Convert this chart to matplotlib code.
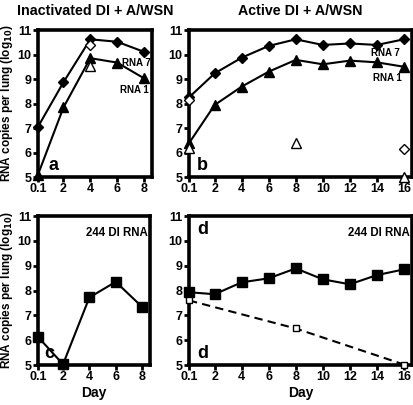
import matplotlib
matplotlib.use('Agg')
import matplotlib.pyplot as plt

plt.rcParams['font.family'] = ['Liberation Sans', 'DejaVu Sans']
plt.rcParams['font.weight'] = 'bold'

days_a = [0.1, 2, 4, 6, 8]
rna7_a = [7.05, 8.87, 10.62, 10.52, 10.11]
rna1_a = [5.1, 7.84, 9.85, 9.67, 9.03]
open7_a = ([4], [10.39])
open1_a = ([4], [9.53])

days_b = [0.1, 2, 4, 6, 8, 10, 12, 14, 16]
rna7_b = [8.25, 9.23, 9.87, 10.35, 10.62, 10.39, 10.45, 10.39, 10.62]
rna1_b = [6.38, 7.94, 8.69, 9.3, 9.78, 9.6, 9.75, 9.68, 9.5]
open7_b = ([0.1, 16], [8.15, 6.13])
open1_b = ([0.1, 8, 16], [6.18, 6.4, 5.0])

di_c = [6.13, 5.03, 7.72, 8.35, 7.34]
di_d = [7.93, 7.85, 8.33, 8.49, 8.89, 8.45, 8.25, 8.62, 8.85]
di_open_days = [0.1, 8, 16]
di_open_d = [7.6, 6.47, 5.02]

W, H = 414, 405
fig = plt.figure(figsize=(W / 100, H / 100), dpi=100)


def box(x0, x1, ytop, ybot):
    return [x0 / W, 1 - ybot / H, (x1 - x0) / W, (ybot - ytop) / H]


ax_a = fig.add_axes(box(38, 152, 30, 177))
ax_b = fig.add_axes(box(189, 412, 30, 177))
ax_c = fig.add_axes(box(38, 150, 216, 365))
ax_d = fig.add_axes(box(189, 412, 216, 365))

for ax, days in [(ax_a, days_a), (ax_b, days_b), (ax_c, days_a), (ax_d, days_b)]:
    ax.set_ylim(5, 11)
    ax.set_xlim(0.1, 8.6 if days[-1] == 8 else 16.6)
    ax.set_yticks(range(5, 12))
    ax.set_xticks(days)
    ax.set_xticklabels(['0.1'] + [str(d) for d in days[1:]])
    for s in ax.spines.values():
        s.set_linewidth(2.6)
    ax.tick_params(direction='out', length=3.5, width=2, labelsize=9, pad=1)
    for t in ax.get_xticklabels() + ax.get_yticklabels():
        t.set_fontweight('bold')

lw = 1.5
small = 7
# panel a
ax_a.plot(days_a, rna7_a, color='black', lw=lw, marker='D', ms=5.5, clip_on=False, zorder=3)
ax_a.plot(days_a, rna1_a, color='black', lw=lw, marker='^', ms=6.5, clip_on=False, zorder=3)
ax_a.plot(*open7_a, ls='none', marker='D', ms=5.5, mfc='white', mec='black', mew=1, zorder=4)
ax_a.plot(*open1_a, ls='none', marker='^', ms=6.5, mfc='white', mec='black', mew=1, zorder=4)
ax_a.text(6.4, 9.65, 'RNA 7', fontsize=small, fontweight='bold', va='center')
ax_a.text(6.2, 8.55, 'RNA 1', fontsize=small, fontweight='bold', va='center')
ax_a.text(0.9, 5.45, 'a', fontsize=13, fontweight='bold', va='center')
ax_a.set_title('Inactivated DI + A/WSN', fontsize=10.3, fontweight='bold', pad=11)

# panel b
ax_b.plot(days_b, rna7_b, color='black', lw=lw, marker='D', ms=5.5, clip_on=False, zorder=3)
ax_b.plot(days_b, rna1_b, color='black', lw=lw, marker='^', ms=6.5, clip_on=False, zorder=3)
ax_b.plot(*open7_b, ls='none', marker='D', ms=5.5, mfc='white', mec='black', mew=1, clip_on=False, zorder=4)
ax_b.plot(*open1_b, ls='none', marker='^', ms=6.5, mfc='white', mec='black', mew=1, clip_on=False, zorder=4)
ax_b.text(13.6, 10.06, 'RNA 7', fontsize=small, fontweight='bold', va='center')
ax_b.text(13.7, 9.04, 'RNA 1', fontsize=small, fontweight='bold', va='center')
ax_b.text(0.7, 5.45, 'b', fontsize=13, fontweight='bold', va='center')
ax_b.set_title('Active DI + A/WSN', fontsize=10.3, fontweight='bold', pad=11)

# panel c
ax_c.plot(days_a, di_c, color='black', lw=lw, marker='s', ms=6.5, clip_on=False, zorder=3)
ax_c.text(8.45, 10.3, '244 DI RNA', fontsize=8.3, fontweight='bold', ha='right', va='center')
ax_c.text(0.6, 5.45, 'c', fontsize=13, fontweight='bold', va='center')
ax_c.set_xlabel('Day', fontsize=10, fontweight='bold', labelpad=2)

# panel d
ax_d.plot(days_b, di_d, color='black', lw=lw, marker='s', ms=6.5, clip_on=False, zorder=3)
ax_d.plot(di_open_days, di_open_d, color='black', lw=lw, ls=(0, (4, 2.5)), marker='s', ms=5,
          mfc='white', mec='black', mew=1, clip_on=False, zorder=3)
ax_d.text(16.4, 10.3, '244 DI RNA', fontsize=8.3, fontweight='bold', ha='right', va='center')
ax_d.text(0.7, 10.45, 'd', fontsize=13, fontweight='bold', va='center')
ax_d.text(0.7, 5.45, 'd', fontsize=13, fontweight='bold', va='center')
ax_d.set_xlabel('Day', fontsize=10, fontweight='bold', labelpad=2)

for ax, wpx in ((ax_a, 114), (ax_c, 112)):
    ax.set_ylabel('RNA copies per lung (log$_{\\mathbf{10}}$)', fontsize=8.5, fontweight='bold')
    ax.yaxis.set_label_coords(-23 / wpx, 0.5)

fig.savefig('out.png', dpi=100)
